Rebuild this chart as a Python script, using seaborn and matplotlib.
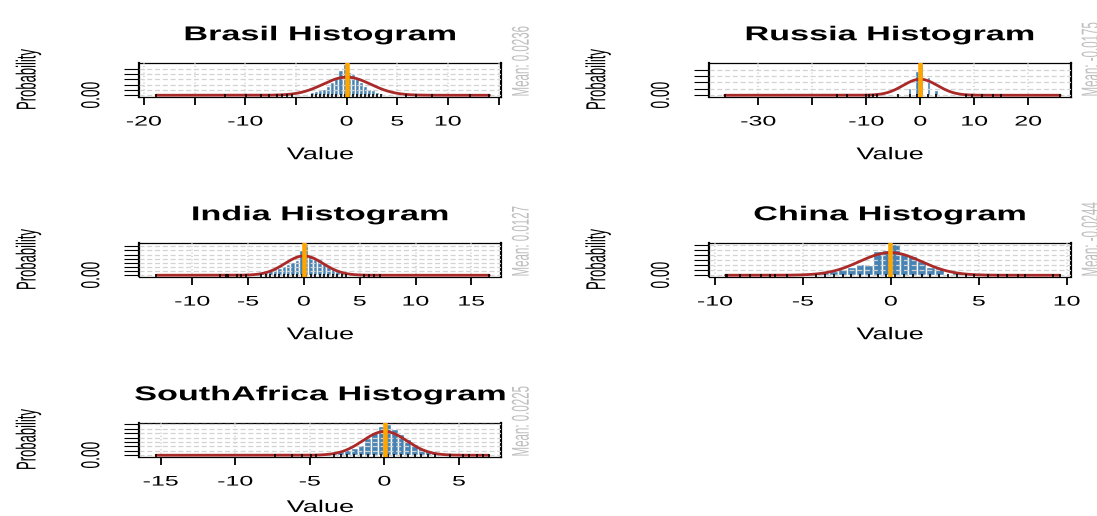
import numpy as np
import pandas as pd
import matplotlib
matplotlib.use("Agg")
import matplotlib.pyplot as plt
import seaborn as sns
from matplotlib.patheffects import AbstractPathEffect
from matplotlib.transforms import Affine2D

# ---- data -------------------------------------------------------------
countries = ["Brasil", "Russia", "India", "China", "SouthAfrica"]
means = [0.0236, -0.0175, 0.0127, -0.0244, 0.0225]
std_devs = [2.35, 3.2, 1.71, 1.76, 1.48]
data_min = [-18.8, -36.2, -13.2, -9.4, -15.3]
data_max = [14.1, 25.9, 16.6, 9.6, 7.0]

# histogram bins: first edge, bin width, density per bin
brasil_start, brasil_width = -3.6, 0.4
brasil_density = [0.03, 0.038, 0.047, 0.06, 0.085, 0.125, 0.16, 0.24, 0.295,
                  0.22, 0.20, 0.16, 0.125, 0.085, 0.06, 0.05, 0.03, 0.02]
russia_start, russia_width = -4.45, 0.7
russia_density = [0.012, 0, 0, 0.059, 0, 0.186, 0.245, 0, 0.145, 0, 0.044]
india_start, india_width = -4.0, 0.4
india_density = [0.03, 0.045, 0.06, 0.075, 0.09, 0.11, 0.135, 0.155, 0.18, 0.30,
                 0.38, 0.23, 0.20, 0.19, 0.14, 0.11, 0.07, 0.05, 0.035, 0.02]
china_start, china_width = -4.5, 0.5
china_density = [0.017, 0.028, 0.042, 0.059, 0.087, 0.112, 0.105, 0.238, 0.252,
                 0.315, 0.217, 0.192, 0.14, 0.087, 0.077, 0.017, 0.042, 0.028, 0.01]
southafrica_start, southafrica_width = -3.6, 0.45
southafrica_density = [0.02, 0.048, 0.06, 0.087, 0.111, 0.199, 0.258, 0.326,
                       0.357, 0.298, 0.238, 0.179, 0.127, 0.079, 0.048, 0.032]

# isolated observations in the tails (rug)
brasil_rug = [-18.8, -12.0, -9.9, -8.4, -7.7, -6.9, -6.4, -5.9, -5.4, 5.9, 6.9, 8.4, 12.2, 14.1]
russia_rug = [-36.2, -15.4, -13.5, -10.0, -9.5, -8.8, -8.0, 8.5, 9.5, 11.5, 13.5, 15.0, 25.9]
india_rug = [-13.2, -7.5, -7.0, -6.8, -6.0, -5.6, -5.2, 5.4, 5.8, 6.3, 6.8, 16.6]
china_rug = [-9.4, -9.3, -8.6, -8.0, -7.4, -6.9, -6.6, -5.9, 5.5, 6.1, 6.6, 7.2, 7.6, 9.2, 9.6]
southafrica_rug = [-15.3, -7.3, -6.2, -5.5, -4.9, -4.6, 4.4, 5.3, 5.7, 6.2, 6.6, 7.0]

# x axis ticks and their labels (crowded labels are left out)
brasil_ticks = [-20, -15, -10, -5, 0, 5, 10, 15]
brasil_labels = ["-20", "", "-10", "", "0", "5", "10", ""]
russia_ticks = [-30, -20, -10, 0, 10, 20]
russia_labels = ["-30", "", "-10", "0", "10", "20"]
india_ticks = [-10, -5, 0, 5, 10, 15]
india_labels = ["-10", "-5", "0", "5", "10", "15"]
china_ticks = [-10, -5, 0, 5, 10]
china_labels = ["-10", "-5", "0", "5", "10"]
southafrica_ticks = [-15, -10, -5, 0, 5]
southafrica_labels = ["-15", "-10", "-5", "0", "5"]

hist_start = [brasil_start, russia_start, india_start, china_start, southafrica_start]
hist_width = [brasil_width, russia_width, india_width, china_width, southafrica_width]
densities = [brasil_density, russia_density, india_density, china_density, southafrica_density]
rugs = [brasil_rug, russia_rug, india_rug, china_rug, southafrica_rug]
x_ticks = [brasil_ticks, russia_ticks, india_ticks, china_ticks, southafrica_ticks]
x_labels = [brasil_labels, russia_labels, india_labels, china_labels, southafrica_labels]

# ---- layout (pixels) ---------------------------------------------------
W, H = 1097, 516
BOX_W, BOX_H = 362, 34
box_left = [139.3, 709, 139.3, 709, 139.3]
box_top = [62.5, 62.5, 242.5, 242.5, 422.5]
x_limits = [(-20.46, 15.27), (-39.13, 27.9), (-14.74, 17.68), (-10.34, 10.24), (-16.43, 7.84)]

TITLE_GAP = 27.8                              # box top to title centre
XLABEL_GAP = [58.2, 58.2, 58.2, 58.2, 51.0]   # box bottom to "Value" centre
YLABEL_GAP = 110.5                            # box left to "Probability" centre
MEAN_GAP = 20.0                               # box right to the mean note

sns.set_theme(style="white")
plt.rcParams["font.family"] = ["Liberation Sans", "DejaVu Sans"]
plt.rcParams["lines.scale_dashes"] = False


class Widen(AbstractPathEffect):
    """Stretch glyph outlines horizontally about their own centre."""

    def __init__(self, sx):
        super().__init__()
        self.sx = sx

    def draw_path(self, renderer, gc, tpath, affine, rgbFace=None):
        ext = tpath.get_extents(affine)
        cx = 0.5 * (ext.x0 + ext.x1)
        wide = Affine2D().translate(-cx, 0).scale(self.sx, 1).translate(cx, 0)
        renderer.draw_path(gc, tpath, affine + wide, rgbFace)


def widen(txt, sx):
    txt.set_path_effects([Widen(sx)])
    return txt


fig = plt.figure(figsize=(W / 100, H / 100), dpi=100)
fig.patch.set_facecolor("white")

for i, name in enumerate(countries):
    left, top = box_left[i], box_top[i]
    ax = fig.add_axes([left / W, 1 - (top + BOX_H) / H, BOX_W / W, BOX_H / H])
    ax.set_facecolor("white")

    dens = np.asarray(densities[i], dtype=float)
    edges = hist_start[i] + hist_width[i] * np.arange(len(dens) + 1)
    centers = 0.5 * (edges[:-1] + edges[1:])
    hist_df = pd.DataFrame({"value": centers, "density": dens})

    sns.histplot(data=hist_df, x="value", weights="density", bins=edges.tolist(),
                 stat="count", color="#4682B4", edgecolor="white",
                 linewidth=1.0, alpha=1.0, ax=ax, zorder=1)

    # fitted normal density over the data range
    xs = np.linspace(data_min[i], data_max[i], 600)
    ys = np.exp(-0.5 * ((xs - means[i]) / std_devs[i]) ** 2) / (std_devs[i] * np.sqrt(2 * np.pi))
    sns.lineplot(x=xs, y=ys, color="#AA2A2A", linewidth=2.0, estimator=None,
                 sort=False, ax=ax, zorder=3)

    # rug of tail observations plus the populated bins
    rug_vals = list(rugs[i]) + list(centers[dens > 0])
    sns.rugplot(x=rug_vals, height=0.06, color="black", linewidth=1.2, ax=ax,
                zorder=3, expand_margins=False)

    ax.axvline(means[i], color="#FFA500", linewidth=3.3, zorder=4)

    ymax = dens.max()
    ax.set_ylim(-0.04 * ymax, 1.04 * ymax)
    ax.set_xlim(*x_limits[i])

    # axes
    ax.set_xticks(x_ticks[i], x_labels[i])
    yt = np.arange(0, ymax + 1e-9, 0.05)
    ax.set_yticks(yt, ["0.00"] + [""] * (len(yt) - 1))
    ax.tick_params(axis="x", bottom=True, length=5.8, width=1.3, pad=7.2,
                   labelsize=10, colors="black", direction="out")
    ax.tick_params(axis="y", left=True, length=10.8, width=0.8, pad=24.0,
                   labelsize=9.9, colors="black", direction="out")
    for t in ax.get_xticklabels():
        widen(t, 1.8)
    for t in ax.get_yticklabels():
        t.set_rotation(90)
        t.set_ha("center")
        t.set_va("center")
        widen(t, 1.9)

    ax.set_axisbelow(False)
    ax.yaxis.grid(True, color="#D3D3D3", linewidth=0.9, linestyle=(0, (3.6, 2.0)))
    ax.xaxis.grid(True, color="#D3D3D3", linewidth=1.2, linestyle=(0, (0.8, 1.6)))

    for side in ["left", "right"]:
        ax.spines[side].set_linewidth(1.6)
        ax.spines[side].set_color("black")
    for side in ["top", "bottom"]:
        ax.spines[side].set_linewidth(0.9)
        ax.spines[side].set_color("black")

    # labels
    ax.set_xlabel("Value", fontsize=12.2, color="black")
    ax.xaxis.set_label_coords(0.5, -XLABEL_GAP[i] / BOX_H)
    ax.xaxis.label.set_va("center")
    widen(ax.xaxis.label, 1.6)

    ax.set_ylabel("Probability", fontsize=9.4, color="black")
    ax.yaxis.set_label_coords(-YLABEL_GAP / BOX_W, 0.5)
    ax.yaxis.label.set_ha("center")
    ax.yaxis.label.set_va("center")
    widen(ax.yaxis.label, 2.1)

    title = ax.set_title(f"{name} Histogram", fontsize=14.4, fontweight="bold",
                         color="black", y=1 + TITLE_GAP / BOX_H, va="center", pad=0)
    widen(title, 1.71)

    mean_txt = ax.text(1 + MEAN_GAP / BOX_W, 0, f"Mean: {means[i]:.4f}", rotation=90,
                       ha="center", va="bottom", transform=ax.transAxes,
                       color="#BEBEBE", fontsize=8.3, clip_on=False)
    widen(mean_txt, 2.1)

fig.savefig("out.png", dpi=100, facecolor="white")
